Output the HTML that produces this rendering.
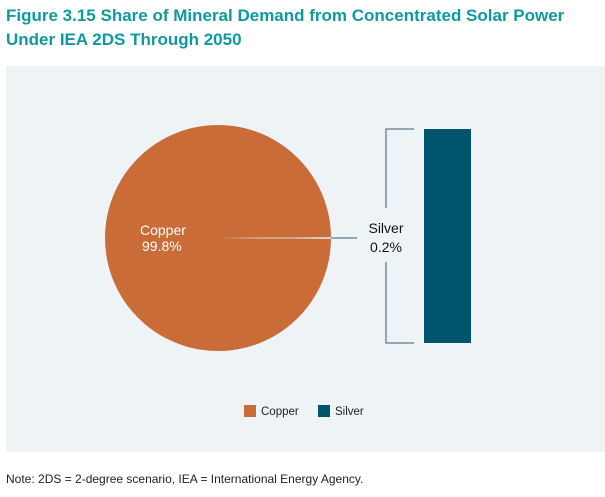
<!DOCTYPE html>
<html><head><meta charset="utf-8"><style>
body{margin:0;width:605px;height:497px;background:#fff;font-family:"Liberation Sans",sans-serif;position:relative;overflow:hidden}
#title{position:absolute;left:6px;top:4px;font-size:17px;font-weight:bold;color:#0e9aa0;line-height:24px}
#note{position:absolute;left:6px;top:472px;font-size:12px;color:#222}
svg{position:absolute;left:0;top:0}
</style></head><body>
<div id="title">Figure 3.15 Share of Mineral Demand from Concentrated Solar Power<br>Under IEA 2DS Through 2050</div>
<svg width="605" height="497">
<rect x="6" y="66" width="599" height="386" fill="#eef3f6"/>
<g id="marks"></g>
<line x1="331" y1="238" x2="357" y2="238" stroke="#6d8ea3" stroke-width="1.5"/>
<path d="M414 129 H386 V208 M386 262 V343 H414" fill="none" stroke="#5d7d93" stroke-width="1.3"/>
<text x="140" y="235" font-size="14" fill="#fff">Copper</text>
<text x="142" y="251" font-size="14" fill="#fff" id="cv"></text>
<text x="386" y="233" font-size="14" fill="#111" text-anchor="middle">Silver</text>
<text x="386" y="252" font-size="14" fill="#111" text-anchor="middle" id="sv"></text>
<rect x="244" y="405" width="12" height="12" fill="#c96c38"/>
<text x="261" y="415" font-size="11.5" fill="#222">Copper</text>
<rect x="318" y="405" width="12" height="12" fill="#00546e"/>
<text x="335" y="415" font-size="11.5" fill="#222">Silver</text>
</svg>
<div id="note">Note: 2DS = 2-degree scenario, IEA = International Energy Agency.</div>
<script>
const categories=["Copper","Silver"];
const shares=[99.8,0.2];
const g=document.getElementById('marks');
const NS="http://www.w3.org/2000/svg";
const cx=218,cy=238,r=113;
const total=shares[0]+shares[1];
// copper slice: start at 90deg (right, pointing), sweep
const silverAng=shares[1]/total*2*Math.PI;
const a0=silverAng/2, a1=2*Math.PI-silverAng/2;
const p=document.createElementNS(NS,'path');
const x0=cx+r*Math.cos(a0),y0=cy+r*Math.sin(a0),x1=cx+r*Math.cos(a1),y1=cy+r*Math.sin(a1);
p.setAttribute('d',`M${cx} ${cy} L${x0} ${y0} A${r} ${r} 0 1 1 ${x1} ${y1} Z`);
p.setAttribute('fill','#c96c38');


g.appendChild(p);
const s=document.createElementNS(NS,'path');
s.setAttribute('d',`M${cx} ${cy} L${x1} ${y1} A${r} ${r} 0 0 1 ${x0} ${y0} Z`);
s.setAttribute('fill','#d8dee2');


g.appendChild(s);
// stacked bar breakdown of silver (single segment)
const barTop=129,barH=214;
const b=document.createElementNS(NS,'rect');
b.setAttribute('x',424);b.setAttribute('y',barTop);b.setAttribute('width',47);
b.setAttribute('height',barH*shares[1]/shares[1]);
b.setAttribute('fill','#00546e');


g.appendChild(b);
document.getElementById('cv').textContent=shares[0].toFixed(1)+'%';
document.getElementById('sv').textContent=shares[1].toFixed(1)+'%';
</script>
</body></html>
